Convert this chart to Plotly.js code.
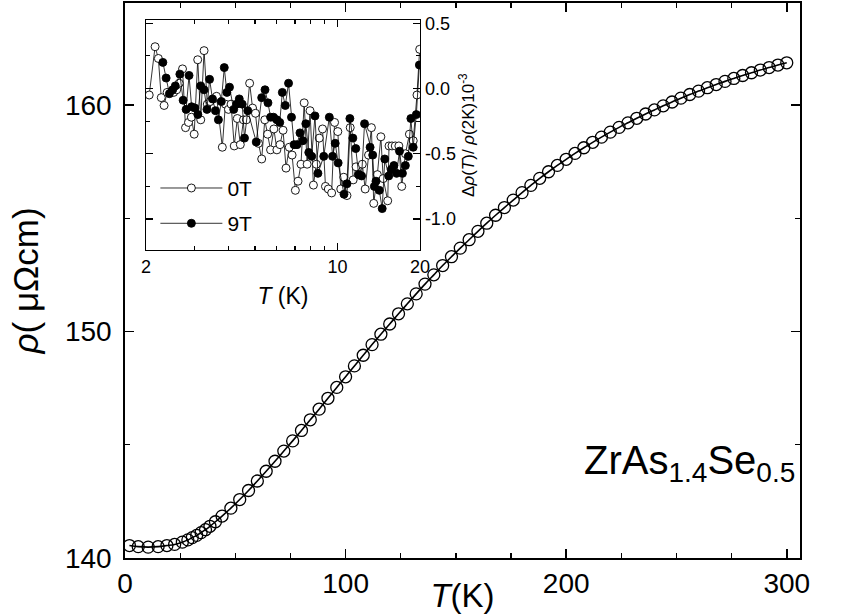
<!DOCTYPE html>
<html><head><meta charset="utf-8">
<script src="https://cdn.plot.ly/plotly-3.0.1.min.js"></script>
<style>html,body{margin:0;padding:0;background:#fff}#chart{width:850px;height:614px}</style>
</head><body><div id="chart"></div>
<script>
// Main panel: resistivity vs temperature
const mainT = [2, 6, 10.5, 15, 19, 22.5, 26, 28.5, 30.5, 32.5, 34.5, 36.5, 38.5, 41, 44, 48, 52, 56, 60, 64, 68, 72, 76, 80, 84, 88, 92, 96, 100, 104, 108, 112, 116, 120, 124, 128, 132, 136, 140, 144, 148, 152, 156, 160, 164, 168, 172, 176, 180, 184, 188, 192, 196, 200, 204, 208, 212, 216, 220, 224, 228, 232, 236, 240, 244, 248, 252, 256, 260, 264, 268, 272, 276, 280, 284, 288, 292, 296, 300];
const mainRho = [140.55, 140.5, 140.48, 140.5, 140.55, 140.6, 140.7, 140.8, 140.9, 141.0, 141.12, 141.25, 141.4, 141.6, 141.85, 142.2, 142.58, 142.98, 143.4, 143.83, 144.27, 144.72, 145.17, 145.63, 146.1, 146.57, 147.05, 147.53, 148.0, 148.48, 148.95, 149.42, 149.88, 150.33, 150.78, 151.22, 151.66, 152.09, 152.5, 152.91, 153.3, 153.68, 154.05, 154.42, 154.78, 155.13, 155.47, 155.8, 156.13, 156.45, 156.76, 157.05, 157.33, 157.6, 157.86, 158.11, 158.35, 158.58, 158.8, 159.01, 159.21, 159.41, 159.6, 159.78, 159.96, 160.13, 160.3, 160.46, 160.61, 160.76, 160.9, 161.04, 161.17, 161.3, 161.42, 161.54, 161.65, 161.76, 161.86];

// Inset: normalized change, 0 T (open) and 9 T (filled), units 1e-3
const insetT0 = [2.056, 2.16, 2.22, 2.275, 2.33, 2.39, 2.47, 2.525, 2.59, 2.645, 2.72, 2.79, 2.86, 2.93, 3.0, 3.09, 3.17, 3.26, 3.35, 3.43, 3.53, 3.62, 3.80, 3.90, 4.00, 4.09, 4.20, 4.31, 4.42, 4.54, 4.65, 4.78, 4.90, 5.02, 5.15, 5.29, 5.43, 5.56, 5.70, 5.86, 6.01, 6.17, 6.33, 6.49, 6.67, 6.83, 7.02, 7.18, 7.36, 7.56, 7.75, 7.94, 8.17, 8.37, 8.58, 8.82, 9.04, 9.26, 9.52, 9.76, 10.03, 10.28, 10.54, 10.83, 11.13, 11.41, 11.69, 12.02, 12.32, 12.62, 12.98, 13.30, 13.56, 13.98, 14.4, 14.68, 15.25, 15.42, 15.81, 16.25, 16.75, 17.16, 17.7, 18.3, 18.9, 19.5, 19.95];
const insetV0 = [-0.05, 0.32, 0.23, -0.07, -0.13, -0.03, -0.03, -0.03, -0.01, 0.04, 0.15, -0.3, -0.26, -0.22, -0.35, 0.22, -0.24, 0.29, -0.12, -0.1, -0.08, -0.06, -0.45, -0.12, -0.16, -0.12, -0.44, -0.23, -0.43, -0.24, -0.24, 0.04, -0.15, -0.19, -0.42, -0.54, -0.24, -0.35, -0.47, -0.31, -0.47, -0.43, -0.32, -0.61, -0.45, -0.51, -0.78, -0.71, -0.58, -0.11, -0.58, -0.17, -0.74, -0.58, -0.38, -0.31, -0.75, -0.77, -0.8, -0.26, -0.33, -0.77, -0.68, -0.82, -0.3, -0.7, -0.6, -0.66, -0.58, -0.77, -0.51, -0.3, -0.88, -0.66, -0.37, -0.69, -0.86, -0.44, -0.44, -0.44, -0.44, -0.75, -0.5, -0.35, -0.4, -0.05, 0.3];
const insetT9 = [2.306, 2.37, 2.436, 2.504, 2.56, 2.66, 2.734, 2.803, 2.873, 2.936, 3.018, 3.093, 3.17, 3.259, 3.34, 3.414, 3.499, 3.587, 3.677, 3.768, 3.863, 3.948, 4.036, 4.182, 4.287, 4.382, 4.491, 4.578, 4.706, 5.053, 5.29, 5.44, 5.576, 5.70, 5.843, 6.01, 6.156, 6.292, 6.45, 6.629, 6.794, 6.945, 7.118, 7.296, 7.478, 7.665, 7.857, 8.053, 8.277, 8.484, 8.912, 9.338, 9.598, 9.811, 10.056, 10.564, 10.83, 11.099, 11.378, 11.661, 11.946, 12.246, 12.552, 13.154, 13.446, 13.632, 13.82, 14.21, 14.56, 14.88, 15.38, 15.72, 16.07, 16.43, 16.84, 17.26, 17.69, 18.13, 18.53, 18.89, 19.4, 19.9];
const insetV9 = [0.2, 0.08, -0.04, -0.01, 0.02, 0.11, -0.09, -0.16, 0.1, -0.14, -0.15, -0.2, 0.02, -0.01, -0.16, 0.07, -0.08, -0.17, -0.24, -0.1, 0.16, -0.03, 0.01, -0.16, -0.12, -0.08, -0.12, -0.38, -0.17, -0.41, -0.07, -0.01, -0.11, -0.22, -0.22, -0.24, -0.26, -0.03, -0.13, 0.04, -0.22, -0.43, -0.43, -0.34, -0.4, -0.27, -0.49, -0.52, -0.21, -0.65, -0.52, -0.22, -0.52, -0.42, -0.57, -0.81, -0.73, -0.23, -0.38, -0.46, -0.66, -0.67, -0.27, -0.45, -0.51, -0.75, -0.71, -0.78, -0.92, -0.54, -0.67, -0.62, -0.59, -0.65, -0.48, -0.65, -0.59, -0.52, -0.23, -0.45, -0.2, 0.18];

const mainXTicks = [0, 100, 200, 300];
const mainYTicks = [140, 150, 160];
const insetXTicks = [2, 10, 20];
const insetXTickText = ['2', '10', '20'];
const insetXMinor = [3, 4, 5, 6, 7, 8, 9];
const insetYTicks = [0.5, 0.0, -0.5, -1.0];
const insetYTickText = ['0.5', '0.0', '-0.5', '-1.0'];
const seriesNames = ['0T', '9T'];

const FONT = 'Liberation Sans, Arial, Helvetica, sans-serif';

const traces = [
  {
    x: mainT, y: mainRho, xaxis: 'x', yaxis: 'y', type: 'scatter', mode: 'lines+markers',
    line: {color: '#000', width: 1.6, shape: 'spline'},
    marker: {symbol: 'circle-open', size: 12, color: '#000', line: {width: 1.3, color: '#000'}},
    showlegend: false, hoverinfo: 'skip'
  },
  {
    x: insetT0, y: insetV0, xaxis: 'x2', yaxis: 'y2', type: 'scatter', mode: 'lines+markers',
    name: seriesNames[0], legendgroup: 'a',
    line: {color: '#000', width: 0.8},
    marker: {symbol: 'circle', size: 8, color: '#fff', line: {width: 0.9, color: '#000'}}
  },
  {
    x: insetT9, y: insetV9, xaxis: 'x2', yaxis: 'y2', type: 'scatter', mode: 'lines+markers',
    name: seriesNames[1], legendgroup: 'b',
    line: {color: '#000', width: 0.8},
    marker: {symbol: 'circle', size: 8, color: '#000', line: {width: 0.9, color: '#000'}}
  }
];

const layout = {
  width: 850, height: 614,
  margin: {l: 125, r: 50, t: 3, b: 56},
  paper_bgcolor: '#fff', plot_bgcolor: '#fff',
  font: {family: FONT, color: '#000'},
  showlegend: true,
  legend: {
    x: 0.045, y: 0.703, xanchor: 'left', yanchor: 'top',
    bgcolor: 'rgba(0,0,0,0)', borderwidth: 0,
    font: {family: FONT, size: 21, color: '#000'},
    traceorder: 'grouped', tracegroupgap: 5, itemwidth: 62
  },
  xaxis: {
    domain: [0, 1], range: [0, 306], anchor: 'y',
    tickmode: 'array', tickvals: mainXTicks,
    ticks: 'inside', ticklen: 9, tickwidth: 1.5, tickcolor: '#000',
    minor: {dtick: 25, tick0: 0, ticks: 'inside', ticklen: 5, tickwidth: 1.3, tickcolor: '#000'},
    showline: true, linewidth: 1.8, linecolor: '#000', mirror: 'ticks',
    showgrid: false, zeroline: false,
    tickfont: {family: FONT, size: 28},
    title: {text: '<i>T</i>(K)', font: {family: FONT, size: 33}, standoff: 2}
  },
  yaxis: {
    domain: [0, 1], range: [140, 164.5], anchor: 'x',
    tickmode: 'array', tickvals: mainYTicks,
    ticks: 'inside', ticklen: 9, tickwidth: 1.5, tickcolor: '#000',
    minor: {dtick: 5, tick0: 140, ticks: 'inside', ticklen: 5, tickwidth: 1.3, tickcolor: '#000'},
    showline: true, linewidth: 1.8, linecolor: '#000', mirror: 'ticks',
    showgrid: false, zeroline: false, ticklabelstandoff: 6,
    tickfont: {family: FONT, size: 28},
    title: {text: '<i>ρ</i>( μΩcm)', font: {family: FONT, size: 35}, standoff: 16}
  },
  xaxis2: {
    domain: [0.031, 0.437], type: 'log', range: [Math.log10(2), Math.log10(20)], anchor: 'y2',
    tickmode: 'array', tickvals: insetXTicks, ticktext: insetXTickText,
    ticks: 'inside', ticklen: 7, tickwidth: 1.2, tickcolor: '#000',
    minor: {tickvals: insetXMinor, ticks: 'inside', ticklen: 4, tickwidth: 1.1, tickcolor: '#000'},
    showline: true, linewidth: 1.3, linecolor: '#000', mirror: 'ticks',
    showgrid: false, zeroline: false,
    tickfont: {family: FONT, size: 18},
    title: {text: '<i>T</i> (K)', font: {family: FONT, size: 23}, standoff: 12}
  },
  yaxis2: {
    domain: [0.555, 0.969], range: [-1.237, 0.523], anchor: 'x2', side: 'right',
    tickmode: 'array', tickvals: insetYTicks, ticktext: insetYTickText,
    ticks: 'inside', ticklen: 7, tickwidth: 1.2, tickcolor: '#000',
    minor: {dtick: 0.25, tick0: 0, ticks: 'inside', ticklen: 4, tickwidth: 1.1, tickcolor: '#000'},
    showline: true, linewidth: 1.3, linecolor: '#000', mirror: 'ticks',
    showgrid: false, zeroline: false,
    tickfont: {family: FONT, size: 18},
    title: {text: 'Δ<i>ρ</i>(<i>T</i>)/ <i>ρ</i>(2K)10<sup>-3</sup>', font: {family: FONT, size: 17}, standoff: 6}
  },
  annotations: [
    {
      xref: 'x', yref: 'y', x: 256, y: 144.2, xanchor: 'center', yanchor: 'middle',
      text: 'ZrAs<sub>1.4</sub>Se<sub>0.5</sub>', showarrow: false,
      font: {family: FONT, size: 40, color: '#000'}
    }
  ]
};

Plotly.newPlot('chart', traces, layout, {displayModeBar: false, staticPlot: true});
</script>
</body></html>
